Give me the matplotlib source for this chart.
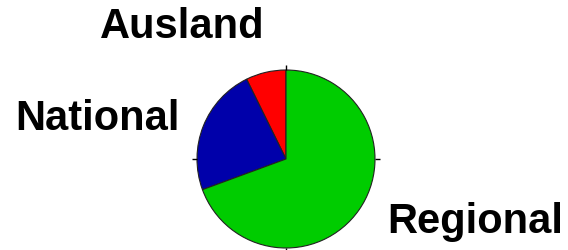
import matplotlib.pyplot as plt

categories = ['Ausland', 'National', 'Regional']
shares = [7.3, 23.3, 69.4]
colors = ['#ff0000', '#0000aa', '#00cc00']

# label baseline-centre positions in units of the pie radius
label_pos = {'Ausland': (-1.169, 1.371), 'National': (-2.118, 0.337), 'Regional': (2.129, -0.820)}

fig = plt.figure(figsize=(5.68, 2.51), dpi=100)
W, H = 568, 251
cx, cy, r = 286, 160, 89
ax = fig.add_axes([(cx - r) / W, (H - cy - r) / H, 2 * r / W, 2 * r / H])

ax.pie(shares, colors=colors, startangle=90, counterclock=True, radius=1,
       wedgeprops=dict(edgecolor='#222222', linewidth=0.8))
ax.set_xlim(-1, 1)
ax.set_ylim(-1, 1)
ax.set_aspect('equal')
ax.set_frame_on(False)
ax.set_xticks([0])
ax.set_yticks([0])
ax.set_xticklabels([])
ax.set_yticklabels([])
ax.tick_params(direction='out', length=3.5, width=1, color='black',
               top=True, bottom=True, left=True, right=True)

for name in categories:
    x, y = label_pos[name]
    ax.text(x, y, name, ha='center', va='baseline', fontsize=30, fontweight='bold',
            family='Liberation Sans', clip_on=False)

plt.savefig('out.png', dpi=100)
